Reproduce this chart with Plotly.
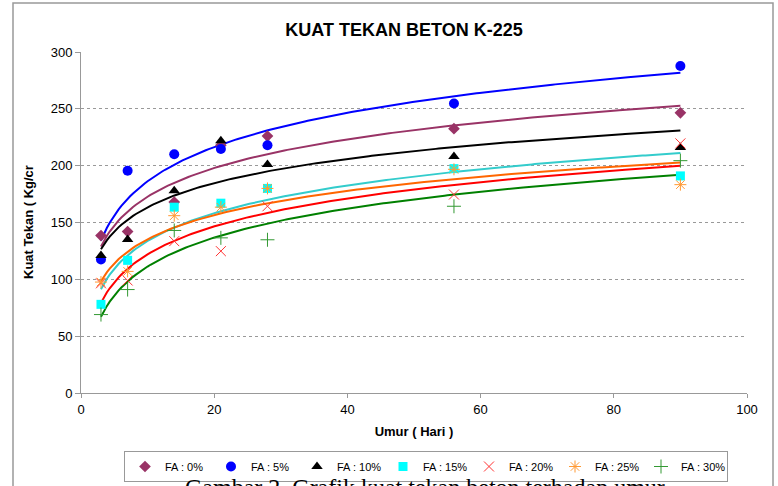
import numpy as np
import plotly.graph_objects as go

# ---- data ----
umur = [3, 7, 14, 21, 28, 56, 90]
series_names = ["FA : 0%", "FA : 5%", "FA : 10%", "FA : 15%", "FA : 20%", "FA : 25%", "FA : 30%"]
fa_0 = [138.5, 142, 168, 218, 226, 232.5, 246.5]
fa_5 = [117.5, 195.6, 210, 214.6, 218, 254.7, 287.7]
fa_10 = [121, 135, 178, 222, 201, 208, 216]
fa_15 = [78, 116.7, 163.5, 167, 180, 197.4, 191]
fa_20 = [96.5, 99, 133.6, 124.8, 164.3, 174.6, 219.6]
fa_25 = [97.6, 107, 156, 163.5, 180, 196.8, 183.3]
fa_30 = [69, 91, 143, 136.5, 134.8, 164.3, 204.4]
y_ticks = [0, 50, 100, 150, 200, 250, 300]
x_ticks = [0, 20, 40, 60, 80, 100]

values = [fa_0, fa_5, fa_10, fa_15, fa_20, fa_25, fa_30]
marker_colors = ["#993366", "#0000FF", "#000000", "#00FFFF", "#FF3333", "#FF9933", "#339933"]
line_colors = ["#993366", "#0000FF", "#000000", "#33CCCC", "#FF0000", "#FF6600", "#008000"]
symbols = ["diamond", "circle", "triangle-up", "square", "x-thin-open", "asterisk-open", "cross-thin-open"]
sizes = [9, 10, 10, 9, 10, 10, 10]

fig = go.Figure()

# logarithmic trend lines (least squares fit on ln x, like Excel)
xs = np.array(umur, dtype=float)
xfit = np.linspace(xs.min(), xs.max(), 200)
for vals, lc in zip(values, line_colors):
    a, b = np.polyfit(np.log(xs), np.array(vals), 1)
    fig.add_trace(go.Scatter(x=xfit, y=a * np.log(xfit) + b, mode="lines",
                             line=dict(color=lc, width=2), showlegend=False,
                             hoverinfo="skip"))

for name, vals, mc, sym, sz in zip(series_names, values, marker_colors, symbols, sizes):
    thin = sym.endswith("-open")
    fig.add_trace(go.Scatter(
        x=umur, y=vals, mode="markers", name=name,
        marker=dict(symbol=sym, size=sz, color=mc,
                    line=dict(color=mc, width=1 if thin else 0))))

W, H = 778, 486
L, R, T, B = 81, 31, 52, 93
pw, ph = W - L - R, H - T - B

def px(X):
    return (X - L) / pw

def py(Y):
    return (H - B - Y) / ph

fig.update_layout(
    width=W, height=H,
    margin=dict(l=L, r=R, t=T, b=B, autoexpand=False),
    paper_bgcolor="white", plot_bgcolor="white",
    font=dict(family="Liberation Sans, Arial, sans-serif", size=13, color="black"),
    title=dict(text="<b>KUAT TEKAN BETON K-225</b>", xref="container", x=404 / W,
               xanchor="center", y=1 - 30 / H, yanchor="middle",
               font=dict(size=18, family="Liberation Sans, Arial, sans-serif")),
    xaxis=dict(range=[0, 100], tickvals=x_ticks, showgrid=False, zeroline=False,
               showline=True, linecolor="#999999", linewidth=1,
               ticks="outside", ticklen=4, tickcolor="#999999",
               title=dict(text="<b>Umur ( Hari )</b>", font=dict(size=13), standoff=11)),
    yaxis=dict(range=[0, 300], tickvals=y_ticks, showgrid=True, gridcolor="#999999",
               griddash="dot", gridwidth=1, zeroline=False,
               showline=True, linecolor="#999999", linewidth=1,
               ticks="outside", ticklen=5, tickcolor="#999999"),
    showlegend=True,
    legend=dict(orientation="h", x=px(124), xanchor="left", y=py(451), yanchor="top",
                bordercolor="#999999", borderwidth=1, bgcolor="white",
                font=dict(size=11), itemwidth=30, tracegroupgap=0,
                entrywidth=41, entrywidthmode="pixels"),
    shapes=[dict(type="rect", xref="paper", yref="paper",
                 x0=px(13), x1=px(773), y0=py(500), y1=py(3),
                 line=dict(color="#999999", width=1.5), fillcolor="rgba(0,0,0,0)",
                 layer="below")],
    annotations=[
        dict(text="<b>Kuat Tekan ( Kg/cr</b>", textangle=-90, xref="paper", yref="paper",
             x=px(28), y=py(222), xanchor="center", yanchor="middle", showarrow=False,
             font=dict(size=13)),
        dict(text="Gambar 2. Grafik kuat tekan beton terhadap umur", xref="paper", yref="paper",
             x=px(183), y=py(472), xanchor="left", yanchor="top", showarrow=False,
             font=dict(size=24, family="Liberation Serif, Times New Roman, serif")),
    ],
)

fig.write_html("out.html", config={"displayModeBar": False})

# remove the browser's default page margin so the figure sits at the window's corner
with open("out.html", "r", encoding="utf-8") as f:
    html = f.read()
html = html.replace("<head>", "<head><style>html,body{margin:0;padding:0;overflow:hidden;}</style>", 1)
with open("out.html", "w", encoding="utf-8") as f:
    f.write(html)
